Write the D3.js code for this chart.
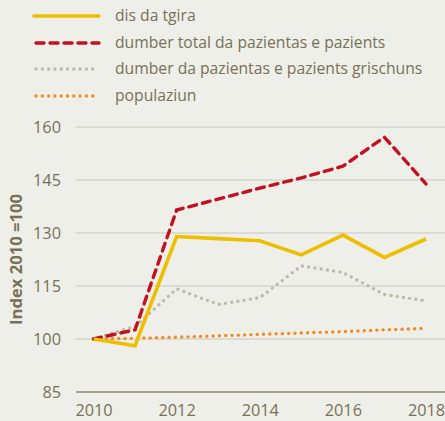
<!DOCTYPE html>
<html>
<head>
<meta charset="utf-8">
<script src="https://cdn.jsdelivr.net/npm/d3@7"></script>
<style>
  html, body { margin: 0; padding: 0; background: #efefe9; }
  svg { display: block; font-family: "Open Sans", sans-serif; }
</style>
</head>
<body>
<div id="chart"></div>
<script>
// Data
var years = [2010, 2011, 2012, 2013, 2014, 2015, 2016, 2017, 2018];
var disDaTgira = [100, 98.1, 129, 128.4, 127.8, 123.8, 129.4, 123.1, 128.3];
var dumberTotal = [100, 102.6, 136.5, 139.6, 142.7, 145.6, 148.9, 157.1, 143.9];
var dumberGrischuns = [100, 103.6, 114.2, 109.8, 111.7, 120.7, 118.8, 112.6, 110.8];
var populaziun = [100, 100.2, 100.5, 100.9, 101.3, 101.7, 102.1, 102.6, 103.0];
var yTicks = [85, 100, 115, 130, 145, 160];
var xTicks = [2010, 2012, 2014, 2016, 2018];
var seriesNames = [
    'dis da tgira',
    'dumber total da pazientas e pazients',
    'dumber da pazientas e pazients grischuns',
    'populaziun'
];

var width = 445, height = 421;
var textColor = '#777158';

// styles per series
var styles = [
    {color: '#edbf00', width: 3.6, dash: null},
    {color: '#c1121f', width: 3.4, dash: '8,6'},
    {color: '#bcbba9', width: 3.4, dash: '0,6.3'},
    {color: '#f5891e', width: 3.4, dash: '0,6.3'}
];
var seriesData = [disDaTgira, dumberTotal, dumberGrischuns, populaziun];

var x = d3.scaleLinear().domain([2010, 2018]).range([93.5, 426]);
var y = d3.scaleLinear().domain([85, 160]).range([392, 127]);

var svg = d3.select('#chart').append('svg')
    .attr('width', width)
    .attr('height', height);

svg.append('rect').attr('width', width).attr('height', height).attr('fill', '#efefe9');

// Gridlines
svg.append('g').selectAll('line')
    .data(yTicks)
    .enter()
    .append('line')
    .attr('x1', 76)
    .attr('x2', width)
    .attr('y1', function(d) { return y(d); })
    .attr('y2', function(d) { return y(d); })
    .attr('stroke', function(d) { return d === 85 ? '#8e8a70' : '#c9c8b9'; })
    .attr('stroke-width', function(d) { return d === 85 ? 1.6 : 1.2; });

// Y axis labels
var yAxis = d3.axisLeft(y).tickValues(yTicks).tickSize(0).tickPadding(0);
var yg = svg.append('g').attr('transform', 'translate(61,0)').call(yAxis);
yg.select('.domain').remove();
yg.selectAll('text')
    .attr('fill', textColor)
    .style('font-size', '16.3px')
    .style('font-family', '"Open Sans", sans-serif')
    .attr('dy', '0.35em');

// X axis labels
var xAxis = d3.axisBottom(x).tickValues(xTicks).tickFormat(d3.format('d')).tickSize(0).tickPadding(0);
var xg = svg.append('g').attr('transform', 'translate(0,400)').call(xAxis);
xg.select('.domain').remove();
xg.selectAll('text')
    .attr('fill', textColor)
    .style('font-size', '16.3px')
    .style('font-family', '"Open Sans", sans-serif')
    .attr('dy', '0.95em');

// Y axis title
svg.append('text')
    .attr('transform', 'translate(22,259.5) rotate(-90)')
    .attr('text-anchor', 'middle')
    .attr('fill', textColor)
    .style('font-size', '16.6px')
    .style('font-weight', 'bold')
    .text('Index 2010 =100');

// Lines (draw order: orange, gray, red, yellow on top)
var line = d3.line()
    .x(function(d, i) { return x(years[i]); })
    .y(function(d) { return y(d); });

[3, 2, 1, 0].forEach(function(k) {
    var s = styles[k];
    svg.append('path')
        .datum(seriesData[k])
        .attr('fill', 'none')
        .attr('stroke', s.color)
        .attr('stroke-width', s.width)
        .attr('stroke-linecap', s.dash ? 'round' : 'butt')
        .attr('stroke-linejoin', 'miter')
        .attr('stroke-dasharray', s.dash)
        .attr('d', line);
});

// Legend
var legendY = [16, 43, 69, 96];
var legend = svg.append('g').selectAll('g')
    .data(seriesNames)
    .enter()
    .append('g')
    .attr('transform', function(d, i) { return 'translate(0,' + legendY[i] + ')'; });

legend.append('line')
    .attr('x1', function(d, i) { return styles[i].dash ? 36 : 34; })
    .attr('x2', 99)
    .attr('stroke', function(d, i) { return styles[i].color; })
    .attr('stroke-width', function(d, i) { return styles[i].width; })
    .attr('stroke-linecap', 'round')
    .attr('stroke-dasharray', function(d, i) { return styles[i].dash; });

legend.append('text')
    .attr('x', 115)
    .attr('dy', '0.32em')
    .attr('fill', textColor)
    .style('font-size', '15.7px')
    .text(function(d) { return d; });
</script>
</body>
</html>
